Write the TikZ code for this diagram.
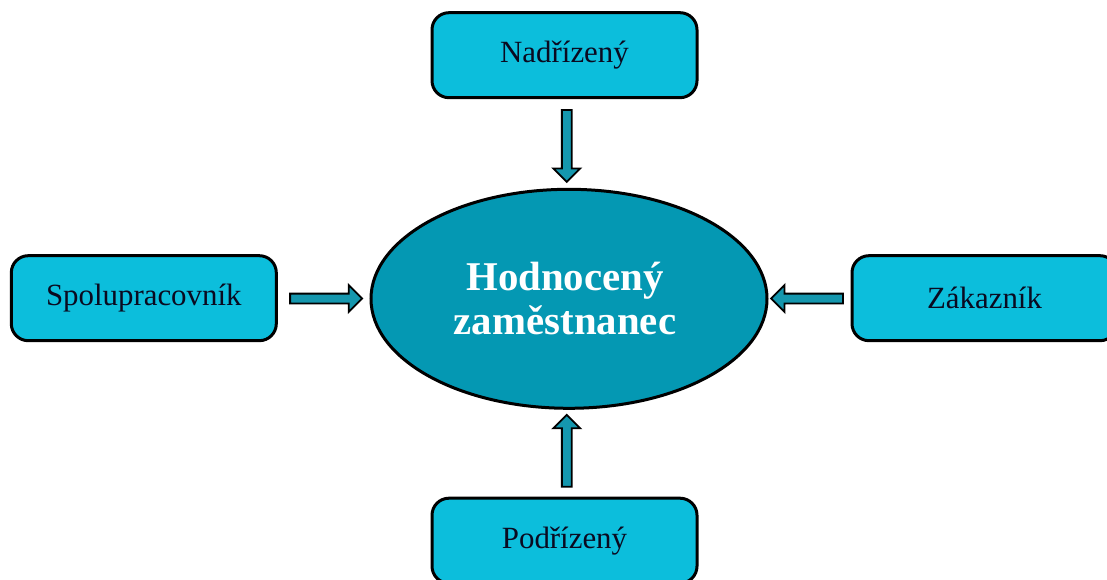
\documentclass[tikz,border=0pt]{standalone}
\usepackage{fontspec}
\setmainfont{Liberation Serif}
\usetikzlibrary{shapes.geometric,shapes.arrows}
\definecolor{boxcyan}{HTML}{0CBEDC}
\definecolor{ellteal}{HTML}{0498B3}
\definecolor{arrteal}{HTML}{1597AE}
\definecolor{txtdark}{HTML}{0A0A20}
\tikzset{
  rolebox/.style={draw=black, line width=3bp, fill=boxcyan, rounded corners=17bp,
    minimum width=265bp, minimum height=85bp, inner sep=0pt,
    text=txtdark, font=\fontsize{31}{36}\selectfont},
  centre/.style={ellipse, draw=black, line width=3bp, fill=ellteal,
    minimum width=396bp, minimum height=219bp, inner sep=0pt,
    text=white, align=center, font=\bfseries\fontsize{41}{44}\selectfont},
  blockarr/.style={single arrow, draw=black, line width=1.8bp, fill=arrteal,
    minimum height=72bp, minimum width=25bp, inner xsep=0pt, inner ysep=4bp,
    single arrow head extend=8.5bp, anchor=center}
}
\begin{document}
\begin{tikzpicture}[x=1bp,y=-1bp]
\useasboundingbox (0,0) rectangle (1107,580);
\clip (0,0) rectangle (1107,580);
\node[rolebox] (nad) at (564.5,55.2) {Nadřízený};
\node[rolebox] (pod) at (564.5,540.7) {Podřízený};
\node[rolebox] (spo) at (143.8,298.2) {Spolupracovník};
\node[rolebox] (zak) at (984.5,298.2) {Zákazník};
\node[centre] (hod) at (569,298.8) {Hodnocený\hspace*{8bp}\\zaměstnanec\hspace*{8bp}};
\path (nad.south) -- node[blockarr, rotate=-90] {} (hod.north);
\path (pod.north) -- node[blockarr, rotate=90] {} (hod.south);
\path (spo.east) -- node[blockarr] {} (hod.west);
\path (zak.west) -- node[blockarr, rotate=180] {} (hod.east);
\end{tikzpicture}
\end{document}
